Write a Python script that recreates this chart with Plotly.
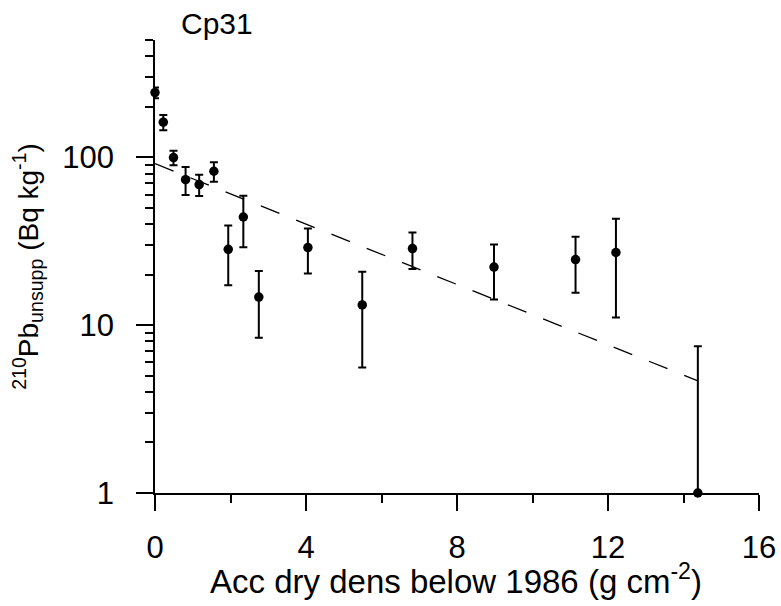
import numpy as np
import plotly.graph_objects as go

# Data
acc_dens = [0.0, 0.22, 0.49, 0.81, 1.17, 1.56, 1.94, 2.34, 2.75, 4.05, 5.49, 6.82, 8.98, 11.14, 12.21, 14.38]
pb210 = [243, 162, 99.6, 73.6, 68.8, 82.6, 28.3, 44.1, 14.7, 29.0, 13.2, 28.6, 22.2, 24.6, 27.1, 1.0]
err_plus = [18, 17, 10, 14, 10, 11, 11, 15, 6.3, 8.7, 7.6, 7, 8, 9, 16, 6.5]
err_minus = [18, 17, 10, 14, 10, 11, 11, 15, 6.3, 8.7, 7.6, 7, 8, 9, 16, 0]

fit_x = [0.0, 14.38]
fit_y = [91.7, 4.66]

x_ticks = [0, 4, 8, 12, 16]
x_minor = [2, 6, 10, 14]
y_ticks = [1, 10, 100]
y_minor = [2, 3, 4, 5, 6, 7, 8, 9, 20, 30, 40, 50, 60, 70, 80, 90, 200, 300, 400, 500]

FONT = "Liberation Sans, Arial, sans-serif"

fig = go.Figure()
fig.add_trace(go.Scatter(
    x=fit_x, y=fit_y, mode="lines",
    line=dict(color="black", width=1.3, dash="20px,18px"),
    showlegend=False, hoverinfo="skip"))
fig.add_trace(go.Scatter(
    x=acc_dens, y=pb210, mode="markers",
    marker=dict(color="black", size=9.5, symbol="circle"),
    error_y=dict(type="data", symmetric=False, array=err_plus, arrayminus=err_minus,
                 color="black", thickness=2, width=4),
    cliponaxis=False, showlegend=False))

fig.add_annotation(
    text="Cp31", xref="paper", yref="paper", x=0.04, y=1.037,
    xanchor="left", yanchor="middle", showarrow=False,
    font=dict(family=FONT, size=30, color="black"))

fig.add_annotation(
    text="Acc dry dens below 1986 (g cm<sup>-2</sup>)", xref="paper", yref="paper",
    x=0.498, y=-0.19, xanchor="center", yanchor="middle", showarrow=False,
    font=dict(family=FONT, size=33, color="black"))

fig.update_xaxes(
    range=[0, 16], tickvals=x_ticks, ticktext=[str(v) for v in x_ticks],
    ticks="outside", ticklen=16, tickwidth=1.5, tickcolor="black",
    minor=dict(tickvals=x_minor, ticks="outside", ticklen=8, tickwidth=1.5, tickcolor="black"),
    showline=True, linecolor="black", linewidth=1.5,
    showgrid=False, zeroline=False, automargin=False,
    ticklabelstandoff=10,
    tickfont=dict(family=FONT, size=31, color="black"))

fig.update_yaxes(
    type="log", range=[0, np.log10(500)],
    tickvals=y_ticks, ticktext=[str(v) for v in y_ticks],
    ticks="outside", ticklen=17, tickwidth=1.5, tickcolor="black",
    minor=dict(tickvals=y_minor, ticks="outside", ticklen=8, tickwidth=1.5, tickcolor="black"),
    showline=True, linecolor="black", linewidth=1.5,
    showgrid=False, zeroline=False, automargin=False,
    ticklabelstandoff=16,
    tickfont=dict(family=FONT, size=31, color="black"),
    title=dict(text="<sup>210</sup>Pb<sub>unsupp</sub> (Bq kg<sup>-1</sup>)",
               font=dict(family=FONT, size=28, color="black"), standoff=16))

fig.update_layout(
    width=781, height=606,
    margin=dict(l=155, r=22, t=40, b=113),
    paper_bgcolor="white", plot_bgcolor="white",
    font=dict(family=FONT, color="black"))

fig.write_html("out.html")
